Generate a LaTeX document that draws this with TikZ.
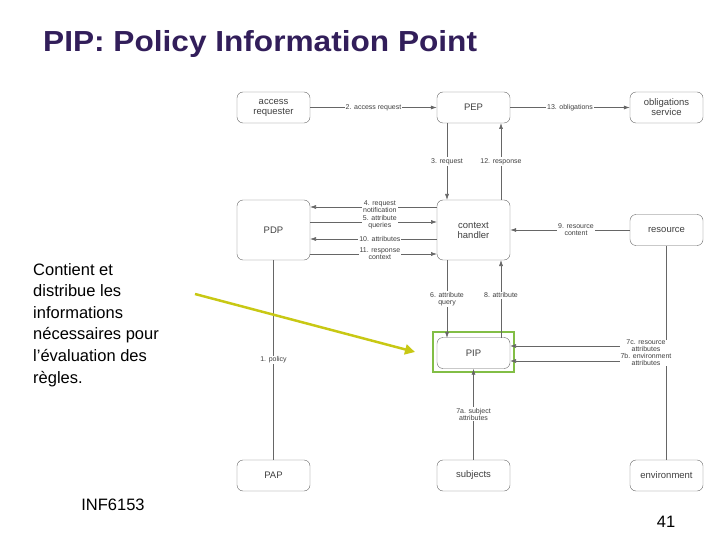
\documentclass[tikz,border=0pt]{standalone}
\usepackage{fontspec}
\setmainfont{Liberation Sans}
\usetikzlibrary{arrows.meta}
\begin{document}
\begin{tikzpicture}[x=1pt,y=-1pt,
 box/.style={draw=black!60,rounded corners=6pt,minimum width=73pt,font=\fontsize{9.5}{10}\selectfont,text=black!75,align=center,inner sep=0},
 ln/.style={draw=black!60,line width=0.6pt},
 ar/.style={ln,-{Latex[length=6pt,width=4pt]}},
 lb/.style={fill=white,font=\fontsize{7}{7}\selectfont,text=black!75,align=center,inner sep=1pt}]
\useasboundingbox (0,0) rectangle (720,540);
\node[anchor=west,font=\bfseries\fontsize{29}{30}\selectfont,text={rgb,255:red,50;green,30;blue,90},xscale=1.09,inner sep=0] (title) at (43,44) {PIP: Policy Information Point};
\node[box,minimum height=31pt] (ar) at (273.5,107.5) {access\\requester};
\node[box,minimum height=31pt] (pep) at (473.5,107.5) {PEP};
\node[box,minimum height=31pt] (obl) at (666.5,107.5) {obligations\\service};
\node[box,minimum height=60pt] (pdp) at (273.5,230) {PDP};
\node[box,minimum height=60pt] (ch) at (473.5,230) {context\\handler};
\node[box,minimum height=31pt] (res) at (666.5,230) {resource};
\node[box,minimum height=31pt] (pip) at (473.5,353) {PIP};
\node[box,minimum height=31pt] (pap) at (273.5,475.5) {PAP};
\node[box,minimum height=31pt] (sub) at (473.5,475.5) {subjects};
\node[box,minimum height=31pt] (env) at (666.5,475.5) {environment};
\draw[draw={rgb,255:red,130;green,190;blue,70},line width=2.5pt] (433,332) rectangle (514,372);
\draw[ar] (ar) -- node[lb]{2. access request} (pep);
\draw[ar] (pep) -- node[lb]{13. obligations} (obl);
\draw[ar] (447,123) -- node[lb,pos=.5]{3. request} (447,200);
\draw[ar] (501,200) -- node[lb,pos=.5]{12. response} (501,123);
\draw[ar] (437,207) -- node[lb,pos=.45]{4. request\\notification} (310,207);
\draw[ar] (310,222) -- node[lb,pos=.55]{5. attribute\\queries} (437,222);
\draw[ar] (437,239) -- node[lb,pos=.45]{10. attributes} (310,239);
\draw[ar] (310,254) -- node[lb,pos=.55]{11. response\\context} (437,254);
\draw[ar] (res) -- node[lb,pos=.45]{9. resource\\content} (ch);
\draw[ar] (447,260) -- node[lb,pos=.5]{6. attribute\\query} (447,338);
\draw[ar] (501,338) -- node[lb,pos=.55]{8. attribute} (501,260);
\draw[ln] (pdp) -- node[lb,pos=.5]{1. policy} (pap);
\draw[ln] (res) -- (env);
\coordinate (c7c) at (666.5,346);
\coordinate (c7b) at (666.5,361);
\draw[ar] (c7c) -- (510,346);
\draw[ar] (c7b) -- (510,361);
\node[lb,fill=white,inner sep=0.5pt] (l7) at (646,353) {7c. resource\\attributes\\7b. environment\\attributes};
\draw[ar] (sub) -- node[lb,pos=.5]{7a. subject\\attributes} (pip);
\draw[line width=2.5pt,draw={rgb,255:red,200;green,200;blue,20},-{Triangle[length=10pt,width=10pt]}] (195,294) -- (415,352);
\node[anchor=north west,align=left,font=\fontsize{16.5}{21.6}\selectfont,inner sep=0] (txt) at (33,263) {Contient et\\distribue les\\informations\\nécessaires pour\\l’évaluation des\\règles.};
\node[font=\fontsize{16.5}{18}\selectfont] (inf) at (113,505) {INF6153};
\node[font=\fontsize{16.5}{18}\selectfont] (num) at (666,522) {41};
\end{tikzpicture}
\end{document}
